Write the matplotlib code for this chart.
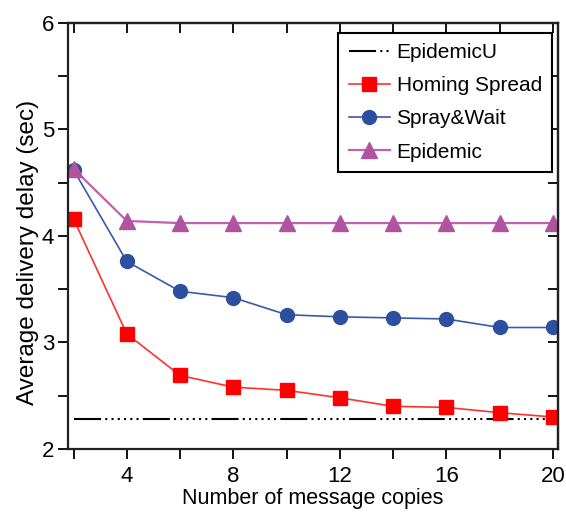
import numpy as np
import matplotlib.pyplot as plt

plt.rcParams['font.family'] = ['Liberation Sans', 'DejaVu Sans']

copies = [2, 4, 6, 8, 10, 12, 14, 16, 18, 20]
epidemic_u = [2.28] * len(copies)
homing = [4.16, 3.08, 2.69, 2.58, 2.55, 2.48, 2.40, 2.39, 2.34, 2.30]
spray = [4.62, 3.76, 3.48, 3.42, 3.26, 3.24, 3.23, 3.22, 3.14, 3.14]
epidemic = [4.63, 4.14, 4.12, 4.12, 4.12, 4.12, 4.12, 4.12, 4.12, 4.12]

fig = plt.figure(figsize=(5.66, 5.19), dpi=100)
ax = fig.add_axes([0.120, 0.135, 0.866, 0.821])

ax.plot(copies, epidemic_u, color='black', lw=1.5,
        dashes=(13, 2, 1, 2, 1, 2, 1, 2, 1, 2, 1, 2, 1, 2), label='EpidemicU')
ax.plot(copies, homing, color='#FF3030', lw=1.2, marker='s', markersize=10,
        markerfacecolor='#FF0000', markeredgecolor='#FF0000', label='Homing Spread')
ax.plot(copies, spray, color='#3A5AA8', lw=1.2, marker='o', markersize=10,
        markerfacecolor='#2C4F9F', markeredgecolor='#2C4F9F', label='Spray&Wait')
ax.plot(copies, epidemic, color='#C060B0', lw=1.6, marker='^', markersize=11.5,
        markerfacecolor='#B0549F', markeredgecolor='#B0549F', label='Epidemic')

ax.set_xlim(1.79, 20.19)
ax.set_ylim(2, 6)
ax.set_xticks([4, 8, 12, 16, 20])
ax.set_xticks([2, 6, 10, 14, 18], minor=True)
ax.set_yticks([2, 3, 4, 5, 6])
ax.set_yticks(np.arange(2.5, 6, 1.0), minor=True)
ax.tick_params(axis='both', which='both', direction='out', length=7, width=1.3,
               labelsize=16, top=False, right=False)
ax.tick_params(axis='x', which='major', pad=5)
ax.tick_params(axis='y', which='major', pad=3)

top = ax.secondary_xaxis('top')
top.set_xticks(np.arange(2, 21, 2))
top.set_xticklabels([])
top.tick_params(direction='in', length=7, width=1.3)
right = ax.secondary_yaxis('right')
right.set_yticks(np.arange(2, 6.01, 0.5))
right.set_yticklabels([])
right.tick_params(direction='in', length=7, width=1.3)

for a in (ax, top, right):
    for s in a.spines.values():
        s.set_linewidth(1.6)
        s.set_color('#222222')

ax.set_xlabel('Number of message copies', fontsize=15.5, labelpad=1)
ax.set_ylabel('Average delivery delay (sec)', fontsize=17.5)
ax.yaxis.set_label_coords(-0.058, 0.46)

leg = ax.legend(loc='upper right', bbox_to_anchor=(0.988, 0.977), borderaxespad=0,
                fontsize=15, fancybox=False, framealpha=1, edgecolor='black',
                handlelength=2.0, handletextpad=0.3, labelspacing=0.68,
                borderpad=0.5)
leg.get_frame().set_linewidth(1.5)

fig.savefig('out.png', dpi=100)
